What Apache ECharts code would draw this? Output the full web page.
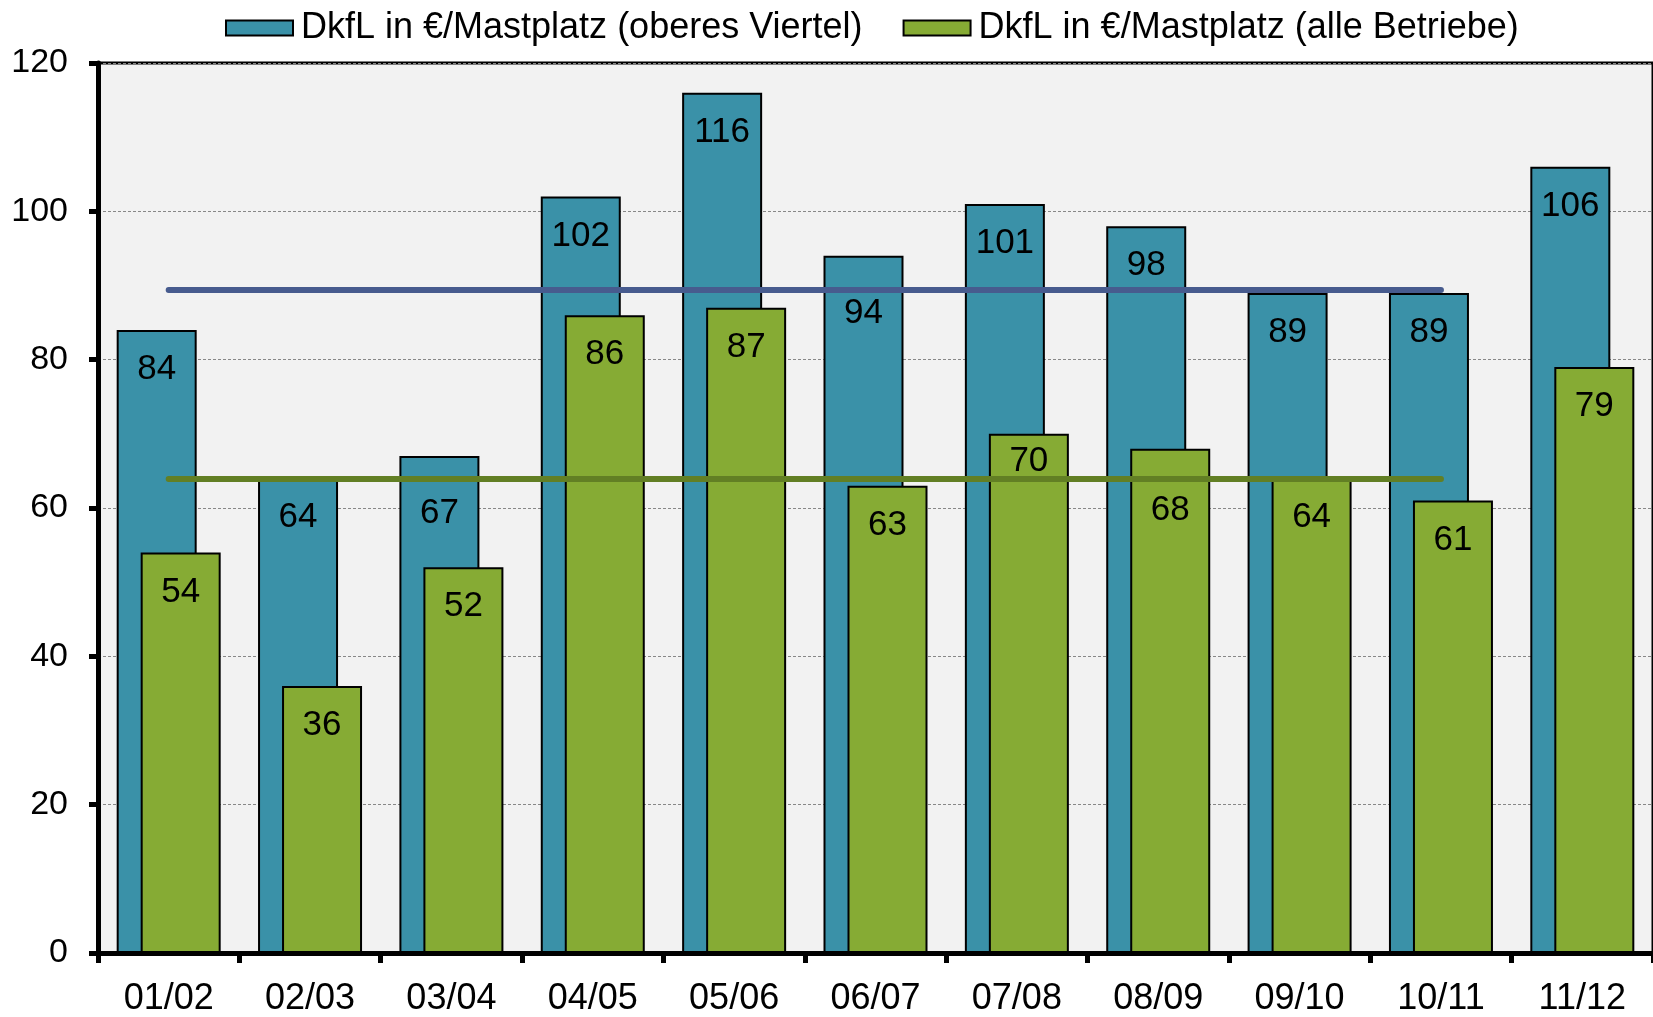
<!DOCTYPE html>
<html>
<head>
<meta charset="utf-8">
<title>DkfL in €/Mastplatz</title>
<script src="https://cdn.jsdelivr.net/npm/echarts@6/dist/echarts.min.js"></script>
<style>
  html, body { margin: 0; padding: 0; background: #fff; }
  #main { width: 1653px; height: 1017px; }
</style>
</head>
<body>
<div id="main"></div>
<script>
// Wirtschaftsjahre
const categories = ['01/02', '02/03', '03/04', '04/05', '05/06', '06/07', '07/08', '08/09', '09/10', '10/11', '11/12']
// DkfL in €/Mastplatz
const oberesViertel = [84, 64, 67, 102, 116, 94, 101, 98, 89, 89, 106]
const alleBetriebe = [54, 36, 52, 86, 87, 63, 70, 68, 64, 61, 79]
// Durchschnittslinien 01/02 - 10/11
const avgOberesViertel = [89.4, 89.4, 89.4, 89.4, 89.4, 89.4, 89.4, 89.4, 89.4, 89.4, null]
const avgAlleBetriebe = [63.9, 63.9, 63.9, 63.9, 63.9, 63.9, 63.9, 63.9, 63.9, 63.9, null]
const yTicks = { min: 0, max: 120, interval: 20 }

const nameOben = 'DkfL in €/Mastplatz (oberes Viertel)'
const nameAlle = 'DkfL in €/Mastplatz (alle Betriebe)'
const font = "'Liberation Sans', Arial, sans-serif"

// Beschriftungen, die im Original von der Linie weggeschoben wurden (Index -> Versatz in px)
const labelShiftOben = { 2: 18, 5: 18 }
const labelShiftAlle = { 6: -12, 7: 22 }

function withShift(values, shift) {
  return values.map((v, i) => {
    if (shift[i] === undefined) return v
    return { value: v, label: { offset: [0, shift[i]] } }
  })
}

const chart = echarts.init(document.getElementById('main'), null, { renderer: 'canvas' })

const barLabel = {
  show: true,
  position: 'insideTop',
  distance: 22,
  color: '#000',
  fontSize: 35,
  fontFamily: font
}

let option = {
  animation: false,
  backgroundColor: '#fff',
  legend: {
    data: [nameOben, nameAlle],
    left: 220,
    top: 5,
    icon: 'rect',
    itemWidth: 67,
    itemHeight: 15,
    itemGap: 40,
    textStyle: { color: '#000', fontSize: 36, fontFamily: font, padding: [0, 0, 0, 3] }
  },
  grid: {
    left: 98,
    top: 63,
    width: 1565,   // letzte Kategorie läuft über den Rand hinaus
    height: 894,
    show: true,
    backgroundColor: '#f2f2f2',
    borderColor: '#000',
    borderWidth: 3
  },
  xAxis: [{
    type: 'category',
    data: categories,
    axisLine: { lineStyle: { color: '#000', width: 5 } },
    axisTick: { show: true, length: 10, lineStyle: { color: '#000', width: 5 } },
    axisLabel: { color: '#000', fontSize: 36, fontFamily: font, margin: 28, interval: 0 }
  }],
  yAxis: [{
    type: 'value',
    min: yTicks.min,
    max: yTicks.max,
    interval: yTicks.interval,
    axisLine: { show: true, lineStyle: { color: '#000', width: 5 } },
    axisTick: { show: true, length: 9, lineStyle: { color: '#000', width: 5 } },
    axisLabel: { color: '#000', fontSize: 34, fontFamily: font, margin: 30 },
    splitLine: { show: true, lineStyle: { color: '#888', width: 1, type: [3, 2] } }
  }],
  series: [{
    name: nameOben,
    type: 'bar',
    data: withShift(oberesViertel, labelShiftOben),
    barWidth: 80,
    barGap: '-70%',
    itemStyle: { color: '#3a91a8', borderColor: '#000', borderWidth: 2 },
    label: barLabel,
    z: 2
  }, {
    name: nameAlle,
    type: 'bar',
    data: withShift(alleBetriebe, labelShiftAlle),
    barWidth: 80,
    itemStyle: { color: '#86ab34', borderColor: '#000', borderWidth: 2 },
    label: barLabel,
    z: 3
  }, {
    name: 'Ø oberes Viertel',
    type: 'line',
    data: avgOberesViertel,
    symbol: 'none',
    lineStyle: { color: '#475b8e', width: 6, cap: 'round' },
    z: 4
  }, {
    name: 'Ø alle Betriebe',
    type: 'line',
    data: avgAlleBetriebe,
    symbol: 'none',
    lineStyle: { color: '#627f24', width: 6, cap: 'round' },
    z: 4
  }]
}
chart.setOption(option)
</script>
</body>
</html>
